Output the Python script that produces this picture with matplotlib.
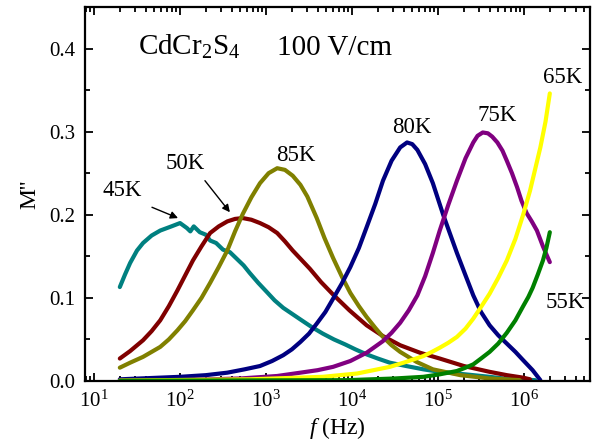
import matplotlib
matplotlib.use("Agg")
import matplotlib.pyplot as plt
import numpy as np

plt.rcParams["font.family"] = "Liberation Serif"
plt.rcParams["mathtext.fontset"] = "custom"
plt.rcParams["mathtext.rm"] = "Liberation Serif"
plt.rcParams["mathtext.it"] = "Liberation Serif:italic"

# log10(f / Hz) and M'', one pair of lists per temperature
lf_45 = [1.30, 1.36, 1.42, 1.50, 1.57, 1.67, 1.77, 1.90, 2.00, 2.08, 2.12, 2.16,
         2.23, 2.30, 2.35, 2.42, 2.50, 2.58, 2.66, 2.74, 2.81, 2.91, 3.01, 3.10,
         3.20, 3.30, 3.40, 3.53, 3.66, 3.79, 3.92, 4.04, 4.17, 4.30, 4.44, 4.63,
         4.83, 5.02, 5.22, 5.41, 5.60, 5.76, 5.92, 6.13]
m_45 = [0.113, 0.128, 0.142, 0.157, 0.166, 0.175, 0.181, 0.186, 0.190, 0.184, 0.180,
        0.186, 0.179, 0.176, 0.169, 0.166, 0.158, 0.155, 0.147, 0.139, 0.130, 0.118,
        0.107, 0.097, 0.088, 0.081, 0.074, 0.065, 0.057, 0.050, 0.044, 0.038, 0.032,
        0.027, 0.022, 0.018, 0.014, 0.011, 0.009, 0.007, 0.005, 0.003, 0.002, 0.001]

lf_50 = [1.30, 1.42, 1.57, 1.67, 1.77, 1.87, 1.97, 2.06, 2.15, 2.25, 2.35, 2.45,
         2.55, 2.64, 2.73, 2.83, 2.93, 3.03, 3.13, 3.22, 3.31, 3.41, 3.51, 3.64,
         3.78, 3.97, 4.17, 4.36, 4.56, 4.79, 5.02, 5.30, 5.60, 5.80, 5.99, 6.07]
m_50 = [0.027, 0.036, 0.049, 0.060, 0.073, 0.090, 0.109, 0.127, 0.145, 0.162, 0.178,
        0.186, 0.192, 0.195, 0.196, 0.194, 0.190, 0.185, 0.178, 0.168, 0.157, 0.146,
        0.135, 0.119, 0.104, 0.085, 0.067, 0.054, 0.043, 0.034, 0.027, 0.018, 0.011,
        0.007, 0.004, 0.002]

lf_85 = [1.30, 1.42, 1.57, 1.67, 1.77, 1.87, 1.97, 2.06, 2.15, 2.25, 2.35, 2.45,
         2.55, 2.64, 2.73, 2.83, 2.93, 3.03, 3.13, 3.22, 3.31, 3.40, 3.48, 3.59,
         3.68, 3.78, 3.88, 3.98, 4.08, 4.17, 4.27, 4.36, 4.46, 4.56, 4.75, 4.94,
         5.26, 5.60, 5.95]
m_85 = [0.016, 0.022, 0.029, 0.035, 0.041, 0.050, 0.061, 0.072, 0.085, 0.100, 0.118,
        0.137, 0.157, 0.180, 0.201, 0.221, 0.238, 0.250, 0.256, 0.254, 0.247, 0.236,
        0.222, 0.196, 0.172, 0.148, 0.126, 0.106, 0.090, 0.077, 0.064, 0.053, 0.043,
        0.035, 0.023, 0.014, 0.007, 0.003, 0.001]

lf_80 = [1.30, 2.00, 2.30, 2.55, 2.75, 2.93, 3.07, 3.20, 3.30, 3.40, 3.50, 3.59,
         3.69, 3.78, 3.88, 3.98, 4.08, 4.17, 4.27, 4.36, 4.46, 4.56, 4.64, 4.70,
         4.76, 4.85, 4.94, 5.06, 5.14, 5.22, 5.32, 5.41, 5.50, 5.60, 5.70, 5.80,
         5.90, 5.99, 6.10, 6.19]
m_80 = [0.002, 0.005, 0.007, 0.010, 0.014, 0.018, 0.024, 0.031, 0.038, 0.047, 0.057,
        0.069, 0.083, 0.099, 0.117, 0.137, 0.160, 0.185, 0.213, 0.241, 0.265, 0.281,
        0.287, 0.285, 0.278, 0.261, 0.238, 0.200, 0.177, 0.154, 0.127, 0.103, 0.083,
        0.067, 0.055, 0.045, 0.035, 0.025, 0.013, 0.001]

lf_75 = [1.30, 2.00, 2.70, 3.13, 3.40, 3.60, 3.78, 3.98, 4.17, 4.36, 4.46, 4.56,
         4.66, 4.76, 4.85, 4.94, 5.02, 5.12, 5.22, 5.32, 5.41, 5.46, 5.52, 5.58,
         5.63, 5.69, 5.75, 5.80, 5.86, 5.92, 5.97, 6.03, 6.09, 6.15, 6.22, 6.27,
         6.30]
m_75 = [0.0005, 0.001, 0.003, 0.006, 0.010, 0.013, 0.017, 0.024, 0.034, 0.048, 0.058,
        0.070, 0.085, 0.103, 0.126, 0.154, 0.181, 0.212, 0.241, 0.268, 0.287, 0.295,
        0.299, 0.298, 0.294, 0.287, 0.277, 0.265, 0.250, 0.233, 0.217, 0.202, 0.192,
        0.181, 0.162, 0.150, 0.143]

lf_65 = [1.30, 2.81, 3.66, 4.06, 4.44, 4.63, 4.83, 4.93, 5.02, 5.12, 5.22, 5.32,
         5.41, 5.50, 5.60, 5.70, 5.80, 5.90, 5.99, 6.07, 6.13, 6.19, 6.25, 6.30]
m_65 = [0.0005, 0.002, 0.005, 0.009, 0.017, 0.023, 0.030, 0.035, 0.040, 0.046, 0.053,
        0.063, 0.075, 0.089, 0.105, 0.124, 0.145, 0.171, 0.200, 0.229, 0.255, 0.281,
        0.312, 0.346]

lf_55 = [1.30, 3.95, 4.50, 4.83, 5.02, 5.22, 5.32, 5.41, 5.50, 5.60, 5.70, 5.80,
         5.90, 5.99, 6.05, 6.10, 6.16, 6.22, 6.26, 6.30]
m_55 = [0.0003, 0.001, 0.003, 0.005, 0.008, 0.012, 0.016, 0.020, 0.027, 0.035, 0.045,
        0.058, 0.073, 0.090, 0.101, 0.112, 0.128, 0.145, 0.160, 0.179]

series = [
    (lf_45, m_45, "#008080"),
    (lf_50, m_50, "#800000"),
    (lf_85, m_85, "#808000"),
    (lf_80, m_80, "#000080"),
    (lf_75, m_75, "#800080"),
    (lf_65, m_65, "#FFFF00"),
    (lf_55, m_55, "#008000"),
]

fig = plt.figure(figsize=(5.98, 4.47), dpi=100)
ax = fig.add_axes([0.1421, 0.1477, 0.8445, 0.8367])

for lf, m, c in series:
    ax.plot(10 ** np.array(lf), m, color=c, lw=3.0, solid_capstyle="round",
            solid_joinstyle="round")

ax.set_xscale("log")
ax.set_xlim(7.85, 5.85e6)
ax.set_ylim(0, 0.45)
ax.set_yticks([0.0, 0.1, 0.2, 0.3, 0.4])
ax.set_yticks(np.arange(0.05, 0.45, 0.1), minor=True)
ax.yaxis.set_major_formatter(matplotlib.ticker.FormatStrFormatter("%.1f"))

for s in ax.spines.values():
    s.set_linewidth(1.6)
ax.tick_params(which="both", direction="in", top=True, right=True, width=1.3,
               labelsize=15)
ax.tick_params(which="major", length=6, pad=7)
ax.tick_params(which="minor", length=3.5)

ax.set_xlabel(r"$\it{f}$ (Hz)", fontsize=17, labelpad=2)
ax.set_ylabel("M''", fontsize=17, labelpad=6)

ax.text(10 ** 1.51, 0.392, r"CdCr$_2$S$_4$", fontsize=21, va="baseline")
ax.text(10 ** 3.13, 0.392, "100 V/cm", fontsize=21, va="baseline")

labels = [("45K", 1.33, 0.229), ("50K", 2.06, 0.262), ("85K", 3.35, 0.271),
          ("80K", 4.70, 0.305), ("75K", 5.69, 0.320), ("65K", 6.45, 0.365),
          ("55K", 6.48, 0.095)]
for t, lx, ly in labels:
    ax.text(10 ** lx, ly, t, fontsize=16.5, ha="center", va="center")

arrows = [((1.674, 0.209), (1.977, 0.196)), ((2.29, 0.241), (2.58, 0.203))]
for (tx, ty), (hx, hy) in arrows:
    ax.annotate("", xy=(10 ** hx, hy), xytext=(10 ** tx, ty),
                arrowprops=dict(arrowstyle="-|>", color="k", lw=1.0,
                                mutation_scale=11, shrinkA=0, shrinkB=0))

fig.savefig("out.png", dpi=100)
